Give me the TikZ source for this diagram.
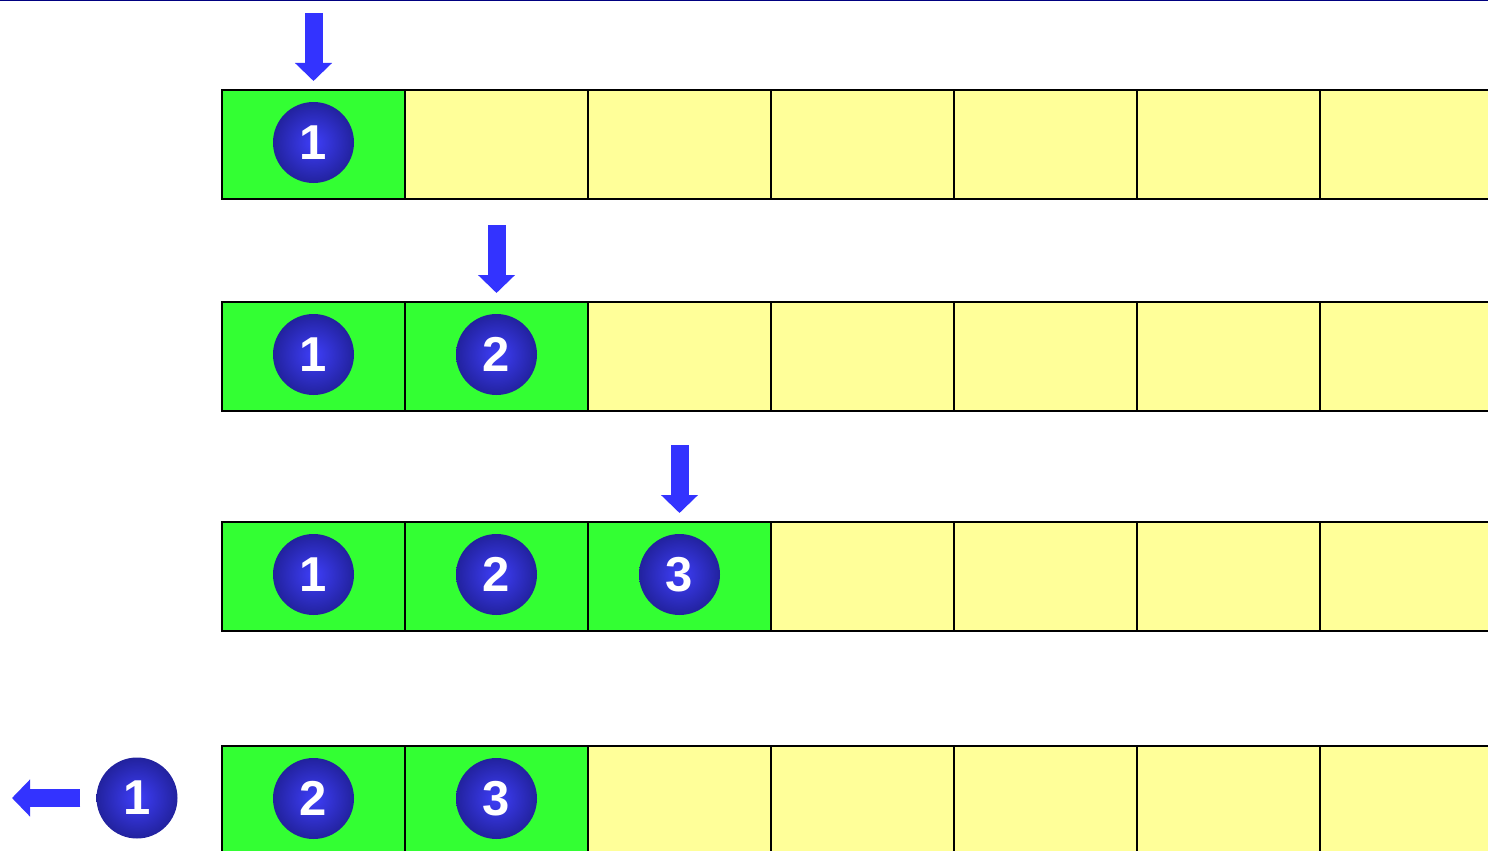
\documentclass[tikz,border=0pt]{standalone}
\usepackage{fontspec}
\setmainfont{Liberation Sans}
\definecolor{queueGreen}{RGB}{51,255,51}
\definecolor{queueYellow}{RGB}{255,255,153}
\definecolor{markBlue}{RGB}{51,51,255}
\definecolor{ballLight}{RGB}{62,62,248}
\definecolor{ballDark}{RGB}{34,34,158}
\definecolor{topNavy}{RGB}{0,0,128}
\usetikzlibrary{arrows.meta, positioning}

\begin{document}
\begin{tikzpicture}[
      x=1pt, y=-1pt,
      cell/.style={rectangle, draw=black, line width=2pt, minimum width=183pt, minimum height=109pt, inner sep=0pt, outer sep=0pt},
      used/.style={cell, fill=queueGreen},
      free/.style={cell, fill=queueYellow},
      ball/.style={circle, minimum size=81pt, inner sep=0pt, shade, inner color=ballLight, outer color=ballDark, text=white, font=\fontsize{49}{49}\selectfont\bfseries},
      inball/.style={ball, yshift=2pt},
      pointer/.style={-{Triangle[length=18pt, width=36pt]}, line width=18pt, markBlue}
    ]
      \clip (0,0) rectangle (1488,851);
      \draw[topNavy, line width=2pt] (0,0) -- (1488,0);

      % four snapshots of the queue
      \foreach \row/\top/\full in {a/90/1, b/302/2, c/522/3, d/746/2} {
        \node[used, anchor=north west] (\row1) at (222,\top) {};
        \foreach \col [remember=\col as \prev (initially 1)] in {2,...,7} {
          \ifnum\col>\full \def\kind{free}\else \def\kind{used}\fi
          \node[\kind, right=0pt of \row\prev] (\row\col) {};
        }
      }

      \node[inball] (ka1) at (a1) {1};
      \node[inball] (kb1) at (b1) {1};
      \node[inball] (kb2) at (b2) {2};
      \node[inball] (kc1) at (c1) {1};
      \node[inball] (kc2) at (c2) {2};
      \node[inball] (kc3) at (c3) {3};
      \node[inball] (kd1) at (d1) {2};
      \node[inball] (kd2) at (d2) {3};
      \node[ball] (gone) at (137,798) {1};

      % where each element goes in / comes out
      \coordinate[above=77pt of a1.north] (ina);
      \coordinate[above=77pt of b2.north] (inb);
      \coordinate[above=77pt of c3.north] (inc);
      \coordinate (exit) at (12,798);

      \draw[pointer, shorten >=9pt] (ina) -- (a1);
      \draw[pointer, shorten >=9pt] (inb) -- (b2);
      \draw[pointer, shorten >=9pt] (inc) -- (c3);
      \draw[pointer, shorten <=16pt] (gone) -- (exit);
    \end{tikzpicture}
\end{document}
